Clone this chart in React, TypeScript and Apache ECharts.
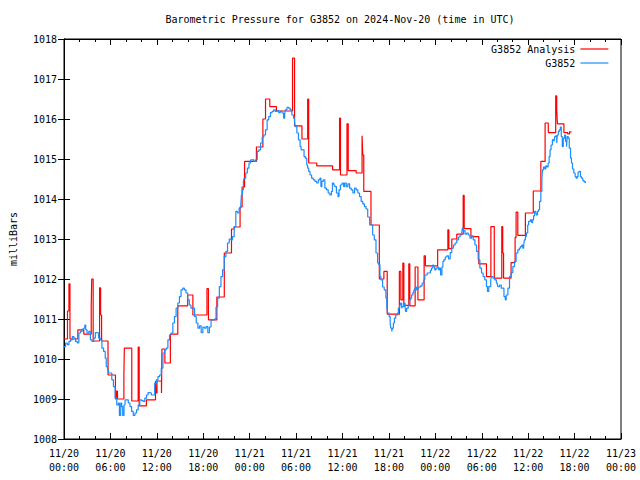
import React, { useEffect, useRef } from "react";
import * as echarts from "echarts";

// Hours since 2024-11-20 00:00 UTC, pressure in millibars
const analysisReadings: [number, number][] = [
  [0.0, 1010.5], [0.45, 1011.2], [0.64, 1011.88], [0.77, 1010.5], [1.79, 1010.73], [2.56, 1010.62],
  [3.52, 1011.3], [3.58, 1012.0], [3.77, 1010.45], [4.6, 1011.78], [4.73, 1011.1], [4.86, 1010.45],
  [5.69, 1009.6], [6.65, 1009.0], [6.78, 1009.2], [6.91, 1009.0], [7.74, 1009.6], [7.8, 1010.27],
  [8.76, 1008.95], [9.59, 1010.3], [9.72, 1008.83], [10.65, 1008.98], [11.83, 1009.45], [11.89, 1009.15],
  [12.02, 1009.45], [12.6, 1009.15], [12.66, 1010.25], [13.04, 1009.9], [13.75, 1010.62], [14.71, 1011.33],
  [15.99, 1011.6], [16.66, 1011.1], [18.48, 1011.76], [18.67, 1010.98], [19.76, 1011.55], [20.72, 1012.65],
  [21.65, 1013.25], [22.0, 1013.3], [22.76, 1013.8], [23.02, 1014.3], [23.34, 1014.94], [24.87, 1015.3],
  [25.71, 1016.0], [26.05, 1016.5], [26.6, 1016.31], [27.46, 1016.2], [29.54, 1017.52], [29.8, 1015.83],
  [30.76, 1015.5], [31.5, 1016.5], [31.63, 1014.9], [32.67, 1014.83], [34.72, 1014.73], [35.62, 1016.02],
  [35.74, 1014.6], [36.58, 1015.88], [36.74, 1014.71], [37.76, 1014.65], [38.53, 1015.58], [38.62, 1015.1],
  [38.75, 1014.19], [39.68, 1013.35], [40.76, 1012.0], [41.35, 1012.19], [41.78, 1011.12], [43.35, 1012.19],
  [43.54, 1011.48], [43.8, 1012.4], [43.93, 1011.34], [44.57, 1012.38], [44.7, 1011.33], [45.39, 1012.3],
  [45.75, 1011.48], [46.55, 1012.58], [46.72, 1012.33], [48.3, 1012.73], [49.62, 1013.23], [49.75, 1012.76],
  [50.13, 1013.0], [50.77, 1013.12], [51.6, 1014.09], [51.73, 1013.26], [52.6, 1013.06], [53.62, 1012.38],
  [54.61, 1012.06], [55.18, 1013.31], [55.62, 1012.02], [56.59, 1013.31], [56.71, 1012.65], [56.82, 1012.02],
  [57.79, 1012.41], [58.31, 1013.04], [58.44, 1013.67], [58.66, 1013.09], [59.64, 1013.65], [60.66, 1014.2],
  [61.64, 1014.94], [62.19, 1015.9], [62.6, 1015.66], [63.56, 1016.58], [63.69, 1016.23], [63.78, 1015.88],
  [64.62, 1015.66], [65.1, 1015.63], [65.35, 1015.68], [65.6, 1015.68],
];

const stationReadings: [number, number][] = [
  [0.0, 1010.31], [0.21, 1010.4], [0.43, 1010.36], [0.64, 1010.44], [0.85, 1010.48], [1.07, 1010.56],
  [1.28, 1010.52], [1.49, 1010.44], [1.71, 1010.4], [1.92, 1010.65], [2.13, 1010.69], [2.34, 1010.75],
  [2.56, 1010.77], [2.69, 1010.85], [2.81, 1010.73], [2.98, 1010.65], [3.2, 1010.69], [3.41, 1010.48],
  [3.62, 1010.44], [3.84, 1010.52], [4.05, 1010.66], [4.26, 1010.65], [4.48, 1010.52], [4.69, 1010.48],
  [4.9, 1010.27], [5.12, 1010.19], [5.33, 1010.02], [5.46, 1009.81], [5.63, 1009.73], [5.75, 1009.65],
  [5.97, 1009.65], [6.18, 1009.48], [6.39, 1009.31], [6.61, 1009.02], [6.82, 1008.85], [7.03, 1008.9],
  [7.16, 1008.59], [7.33, 1008.9], [7.46, 1008.81], [7.59, 1008.59], [7.76, 1008.85], [7.89, 1008.98],
  [8.1, 1008.98], [8.31, 1008.9], [8.53, 1008.81], [8.74, 1008.69], [8.95, 1008.59], [9.17, 1008.65],
  [9.38, 1008.73], [9.59, 1008.85], [9.8, 1008.98], [10.02, 1008.96], [10.23, 1008.94], [10.44, 1009.02],
  [10.66, 1009.1], [10.87, 1009.16], [11.08, 1009.15], [11.3, 1009.1], [11.51, 1009.1], [11.72, 1009.4],
  [11.94, 1009.48], [12.15, 1009.56], [12.36, 1009.6], [12.57, 1009.77], [12.79, 1010.15], [13.0, 1010.23],
  [13.21, 1010.27], [13.43, 1010.48], [13.64, 1010.6], [13.85, 1010.65], [14.07, 1010.9], [14.28, 1011.06],
  [14.49, 1011.27], [14.71, 1011.4], [14.92, 1011.56], [15.13, 1011.73], [15.35, 1011.77], [15.56, 1011.73],
  [15.77, 1011.65], [15.99, 1011.48], [16.2, 1011.35], [16.41, 1011.27], [16.88, 1011.06], [17.09, 1010.9],
  [17.31, 1010.77], [17.52, 1010.83], [17.73, 1010.66], [17.95, 1010.8], [18.16, 1010.77], [18.37, 1010.81],
  [18.59, 1010.66], [18.8, 1010.8], [19.01, 1010.98], [19.23, 1010.98], [19.44, 1011.0], [19.65, 1011.3],
  [19.86, 1011.52], [20.08, 1011.81], [20.29, 1012.06], [20.5, 1012.23], [20.72, 1012.56], [20.93, 1012.69],
  [21.14, 1012.9], [21.36, 1013.0], [21.57, 1012.98], [21.78, 1013.06], [22.0, 1013.31], [22.21, 1013.69],
  [22.42, 1013.65], [22.64, 1013.77], [22.85, 1013.85], [22.93, 1014.1], [23.06, 1014.23], [23.19, 1014.44],
  [23.28, 1014.52], [23.49, 1014.65], [23.7, 1014.77], [23.91, 1014.9], [24.13, 1014.98], [24.34, 1014.98],
  [24.55, 1014.94], [24.77, 1014.98], [24.98, 1015.19], [25.19, 1015.23], [25.41, 1015.4], [25.62, 1015.55],
  [25.83, 1015.6], [26.05, 1015.73], [26.26, 1015.98], [26.47, 1016.06], [26.69, 1016.16], [26.9, 1016.19],
  [27.11, 1016.23], [27.32, 1016.19], [27.54, 1016.21], [27.75, 1016.16], [27.96, 1016.19], [28.18, 1016.15],
  [28.39, 1016.02], [28.52, 1016.1], [28.6, 1016.23], [28.82, 1016.29], [29.03, 1016.27], [29.24, 1016.23],
  [29.46, 1016.1], [29.67, 1016.02], [29.8, 1015.94], [29.88, 1015.81], [30.1, 1015.65], [30.31, 1015.48],
  [30.52, 1015.31], [30.65, 1015.23], [30.86, 1015.23], [31.03, 1015.06], [31.2, 1015.02], [31.38, 1014.85],
  [31.5, 1014.77], [31.63, 1014.69], [31.8, 1014.6], [32.01, 1014.52], [32.23, 1014.48], [32.44, 1014.44],
  [32.65, 1014.4], [32.87, 1014.48], [33.08, 1014.52], [33.21, 1014.31], [33.33, 1014.44], [33.51, 1014.48],
  [33.72, 1014.27], [33.93, 1014.23], [34.15, 1014.15], [34.36, 1014.1], [34.57, 1014.19], [34.7, 1014.4],
  [34.87, 1014.35], [35.0, 1014.31], [35.21, 1014.15], [35.42, 1014.06], [35.55, 1014.23], [35.72, 1014.35],
  [35.94, 1014.4], [36.15, 1014.31], [36.28, 1014.4], [36.49, 1014.31], [36.7, 1014.38], [36.92, 1014.27],
  [37.13, 1014.23], [37.34, 1014.15], [37.56, 1014.27], [37.77, 1014.23], [37.98, 1014.15], [38.2, 1014.06],
  [38.41, 1013.94], [38.62, 1013.88], [38.83, 1013.81], [39.05, 1013.75], [39.26, 1013.55], [39.51, 1013.35],
  [39.9, 1013.1], [40.11, 1012.98], [40.33, 1012.65], [40.54, 1012.4], [40.67, 1012.36], [40.84, 1012.06],
  [40.96, 1011.98], [41.18, 1011.8], [41.39, 1011.73], [41.61, 1011.52], [41.73, 1011.31], [41.82, 1011.15],
  [42.03, 1011.06], [42.16, 1010.9], [42.24, 1010.77], [42.37, 1010.69], [42.46, 1010.77], [42.58, 1010.9],
  [42.71, 1011.02], [42.88, 1011.1], [43.1, 1011.15], [43.22, 1011.27], [43.4, 1011.35], [43.52, 1011.4],
  [43.65, 1011.27], [43.74, 1011.31], [43.95, 1011.4], [44.08, 1011.31], [44.16, 1011.19], [44.29, 1011.27],
  [44.5, 1011.35], [44.67, 1011.48], [44.8, 1011.52], [44.93, 1011.6], [45.1, 1011.66], [45.23, 1011.73],
  [45.36, 1011.77], [45.44, 1011.8], [45.57, 1011.73], [45.74, 1011.77], [45.87, 1011.8], [46.08, 1011.83],
  [46.3, 1011.9], [46.51, 1011.98], [46.64, 1012.1], [46.94, 1012.15], [47.15, 1012.15], [47.36, 1012.21],
  [47.49, 1012.27], [47.66, 1012.35], [47.79, 1012.3], [47.92, 1012.23], [48.09, 1012.27], [48.26, 1012.3],
  [48.43, 1012.23], [48.55, 1012.27], [48.68, 1012.1], [48.85, 1012.3], [48.98, 1012.44], [49.1, 1012.48],
  [49.28, 1012.55], [49.49, 1012.58], [49.7, 1012.5], [49.92, 1012.66], [50.13, 1012.77], [50.34, 1012.85],
  [50.56, 1012.9], [50.77, 1012.98], [50.98, 1013.05], [51.2, 1013.1], [51.41, 1013.15], [51.5, 1013.27],
  [51.62, 1013.21], [51.84, 1013.12], [52.05, 1013.15], [52.26, 1013.1], [52.48, 1013.02], [52.69, 1013.08],
  [52.9, 1012.98], [53.12, 1012.85], [53.33, 1012.69], [53.54, 1012.48], [53.76, 1012.27], [53.97, 1012.15],
  [54.18, 1012.06], [54.39, 1011.98], [54.61, 1011.81], [54.74, 1011.69], [54.91, 1011.81], [55.04, 1011.81],
  [55.16, 1011.98], [55.25, 1012.06], [55.46, 1012.02], [55.67, 1011.98], [55.89, 1011.9], [56.01, 1011.85],
  [56.1, 1011.81], [56.31, 1011.85], [56.52, 1011.77], [56.74, 1011.77], [56.87, 1011.56], [57.04, 1011.48],
  [57.16, 1011.6], [57.38, 1011.77], [57.59, 1012.06], [57.8, 1012.16], [58.02, 1012.31], [58.23, 1012.44],
  [58.44, 1012.65], [58.66, 1012.73], [58.87, 1012.77], [59.0, 1012.81], [59.17, 1012.85], [59.3, 1012.77],
  [59.42, 1012.85], [59.51, 1012.98], [59.64, 1013.06], [59.77, 1013.15], [59.94, 1013.35], [60.06, 1013.44],
  [60.28, 1013.48], [60.45, 1013.41], [60.57, 1013.48], [60.7, 1013.58], [60.83, 1013.69], [61.0, 1013.66],
  [61.08, 1013.6], [61.21, 1013.69], [61.34, 1013.73], [61.47, 1013.94], [61.64, 1014.19], [61.77, 1014.48],
  [61.85, 1014.73], [61.98, 1014.8], [62.15, 1014.75], [62.28, 1014.83], [62.41, 1014.8], [62.58, 1014.9],
  [62.71, 1015.06], [62.83, 1015.23], [62.96, 1015.35], [63.13, 1015.48], [63.26, 1015.5], [63.34, 1015.44],
  [63.43, 1015.56], [63.56, 1015.58], [63.69, 1015.4], [63.77, 1015.6], [63.9, 1015.69], [64.03, 1015.73],
  [64.16, 1015.8], [64.28, 1015.56], [64.41, 1015.31], [64.54, 1015.52], [64.71, 1015.6], [64.84, 1015.44],
  [64.96, 1015.31], [65.05, 1015.56], [65.18, 1015.52], [65.31, 1015.27], [65.48, 1015.02], [65.6, 1014.9],
  [65.73, 1014.75], [65.9, 1014.65], [66.07, 1014.56], [66.2, 1014.52], [66.33, 1014.56], [66.45, 1014.67],
  [66.58, 1014.69], [66.76, 1014.56], [66.88, 1014.52], [67.06, 1014.46], [67.23, 1014.43], [67.4, 1014.4],
];

const seriesNames = ["G3852 Analysis", "G3852"];
const seriesColors = ["#ff0000", "#1a8cff"];
const titleText = "Barometric Pressure for G3852 on 2024-Nov-20 (time in UTC)";
const yAxisName = "milliBars";
const startDay = 20;
const startMonth = 11;

const FONT = '"DejaVu Sans Mono", "Liberation Mono", monospace';

function timeLabel(h: number): string {
  const day = startDay + Math.floor(h / 24);
  const hh = Math.round(h % 24);
  return `${startMonth}/${day}\n${String(hh).padStart(2, "0")}:00`;
}

export default function App() {
  const ref = useRef<HTMLDivElement>(null);

  useEffect(() => {
    document.body.style.margin = "0";
    if (!ref.current) return;
    const chart = echarts.init(ref.current, null, { renderer: "svg" });

    const baseX = {
      type: "value" as const,
      min: 0,
      max: 72,
      interval: 6,
      axisLine: { show: true, lineStyle: { color: "#000", width: 1 } },
      axisTick: { show: true, inside: true, length: 6, lineStyle: { color: "#000", width: 1 } },
      minorTick: { show: true, splitNumber: 3, length: 3, lineStyle: { color: "#000", width: 1 } },
      splitLine: { show: false },
      minorSplitLine: { show: false },
    };
    const baseY = {
      type: "value" as const,
      min: 1008,
      max: 1018,
      interval: 1,
      axisLine: { show: true, lineStyle: { color: "#000", width: 1 } },
      axisTick: { show: true, inside: true, length: 6, lineStyle: { color: "#000", width: 1 } },
      splitLine: { show: false },
    };

    chart.setOption({
      animation: false,
      backgroundColor: "#ffffff",
      textStyle: { fontFamily: FONT },
      graphic: [
        {
          type: "text",
          x: 340,
          y: 19,
          style: {
            text: titleText,
            fill: "#000",
            font: `10px ${FONT}`,
            align: "center",
            verticalAlign: "middle",
          },
        },
      ],
      grid: {
        left: 58,
        right: 19,
        top: 39,
        bottom: 41,
        show: true,
        borderColor: "#000",
        borderWidth: 1,
        backgroundColor: "transparent",
      },
      legend: {
        orient: "vertical",
        right: 31,
        top: 44,
        padding: 0,
        align: "right",
        itemWidth: 28,
        itemHeight: 10,
        itemGap: 4,
        selectedMode: false,
        data: seriesNames,
        itemStyle: { opacity: 0 },
        lineStyle: { width: 1.2 },
        textStyle: { fontSize: 10, color: "#000", fontFamily: FONT },
      },
      xAxis: [
        {
          ...baseX,
          position: "bottom",
          axisLabel: {
            show: true,
            color: "#000",
            fontSize: 10,
            fontFamily: FONT,
            lineHeight: 14,
            margin: 7,
            formatter: (v: number) => timeLabel(v),
          },
        },
        { ...baseX, position: "top", axisLabel: { show: false } },
      ],
      yAxis: [
        {
          ...baseY,
          position: "left",
          name: yAxisName,
          nameLocation: "middle",
          nameRotate: 90,
          nameGap: 46,
          nameTextStyle: { fontSize: 10, color: "#000", fontFamily: FONT },
          axisLabel: {
            show: true,
            color: "#000",
            fontSize: 10,
            fontFamily: FONT,
            margin: 7,
            formatter: (v: number) => String(v),
          },
        },
        { ...baseY, position: "right", axisLabel: { show: false } },
      ],
      series: [
        {
          name: seriesNames[0],
          type: "line",
          xAxisIndex: 0,
          yAxisIndex: 0,
          step: "end",
          symbol: "none",
          data: analysisReadings,
          lineStyle: { color: seriesColors[0], width: 1.2 },
          itemStyle: { color: seriesColors[0] },
          z: 2,
        },
        {
          name: seriesNames[1],
          type: "line",
          xAxisIndex: 0,
          yAxisIndex: 0,
          step: "end",
          symbol: "none",
          data: stationReadings,
          lineStyle: { color: seriesColors[1], width: 1.2 },
          itemStyle: { color: seriesColors[1] },
          z: 3,
        },
      ],
    });

    return () => chart.dispose();
  }, []);

  return (
    <div
      ref={ref}
      style={{ position: "fixed", left: 0, top: 0, width: 640, height: 480, background: "#fff" }}
    />
  );
}
